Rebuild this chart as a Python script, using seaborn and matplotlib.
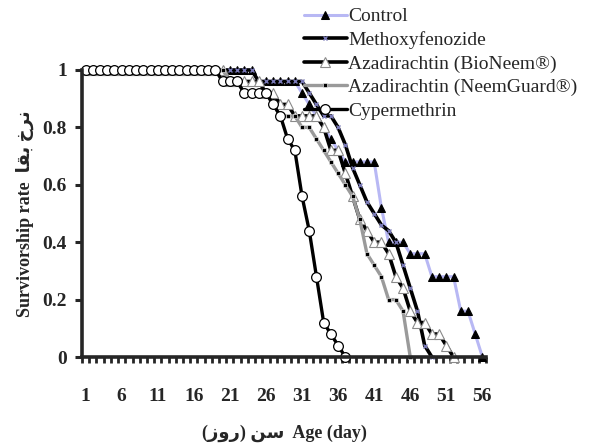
import numpy as np
import seaborn as sns
import matplotlib.pyplot as plt

# survivorship data (day 1 onwards, series stop at first 0)
days = list(range(1, 57))

control = [1.0, 1.0, 1.0, 1.0, 1.0, 1.0, 1.0, 1.0, 1.0, 1.0, 1.0, 1.0, 1.0, 1.0, 1.0, 1.0,
           1.0, 1.0, 1.0, 1.0, 1.0, 1.0, 1.0, 1.0, 0.96, 0.96, 0.96, 0.96, 0.96, 0.96, 0.92,
           0.88, 0.84, 0.80, 0.76, 0.72, 0.68, 0.68, 0.68, 0.68, 0.68, 0.52, 0.40, 0.40, 0.40,
           0.36, 0.36, 0.36, 0.28, 0.28, 0.28, 0.28, 0.16, 0.16, 0.08, 0.0]
methoxyfenozide = [1.0, 1.0, 1.0, 1.0, 1.0, 1.0, 1.0, 1.0, 1.0, 1.0, 1.0, 1.0, 1.0, 1.0, 1.0,
                   1.0, 1.0, 1.0, 1.0, 1.0, 1.0, 1.0, 1.0, 1.0, 0.96, 0.96, 0.96, 0.96, 0.96,
                   0.96, 0.96, 0.92, 0.88, 0.84, 0.84, 0.80, 0.74, 0.66, 0.60, 0.54, 0.50, 0.46,
                   0.44, 0.40, 0.32, 0.24, 0.16, 0.04, 0.0]
bioneem = [1.0, 1.0, 1.0, 1.0, 1.0, 1.0, 1.0, 1.0, 1.0, 1.0, 1.0, 1.0, 1.0, 1.0, 1.0, 1.0, 1.0,
           1.0, 1.0, 1.0, 0.96, 0.96, 0.96, 0.96, 0.96, 0.92, 0.92, 0.88, 0.88, 0.84, 0.84,
           0.84, 0.84, 0.80, 0.72, 0.72, 0.64, 0.56, 0.48, 0.44, 0.40, 0.40, 0.36, 0.28, 0.24,
           0.16, 0.12, 0.12, 0.08, 0.08, 0.04, 0.0]
neemguard = [1.0, 1.0, 1.0, 1.0, 1.0, 1.0, 1.0, 1.0, 1.0, 1.0, 1.0, 1.0, 1.0, 1.0, 1.0, 1.0,
             1.0, 1.0, 1.0, 1.0, 0.96, 0.96, 0.92, 0.92, 0.92, 0.92, 0.88, 0.84, 0.84, 0.84,
             0.80, 0.80, 0.76, 0.72, 0.68, 0.64, 0.60, 0.56, 0.48, 0.36, 0.32, 0.28, 0.20,
             0.20, 0.16, 0.0]
cypermethrin = [1.0, 1.0, 1.0, 1.0, 1.0, 1.0, 1.0, 1.0, 1.0, 1.0, 1.0, 1.0, 1.0, 1.0, 1.0, 1.0,
                1.0, 1.0, 1.0, 0.96, 0.96, 0.96, 0.92, 0.92, 0.92, 0.92, 0.88, 0.84, 0.76,
                0.72, 0.56, 0.44, 0.28, 0.12, 0.08, 0.04, 0.0]

labels = ['Control', 'Methoxyfenozide', 'Azadirachtin (BioNeem®)',
          'Azadirachtin (NeemGuard®)', 'Cypermethrin']
xtick_days = [1, 6, 11, 16, 21, 26, 31, 36, 41, 46, 51, 56]
ytick_vals = [0, 0.2, 0.4, 0.6, 0.8, 1.0]
ytick_labels = ['0', '0.2', '0.4', '0.6', '0.8', '1']

sns.set_style('ticks')
plt.rcParams['font.family'] = ['Liberation Serif', 'DejaVu Sans']

styles = [
    dict(color='#b8b8f4', lw=2.2, marker='^', ms=5.5, mfc='black', mec='black'),
    dict(color='black', lw=2.6, marker='x', ms=3, mec='#7a7ab8', mew=1),
    dict(color='black', lw=2.6, marker='^', ms=7, mfc='white', mec='#8a8a8a', mew=0.8),
    dict(color='#9a9a9a', lw=2.4, marker='s', ms=2.6, mfc='black', mec='white', mew=0.4),
    dict(color='black', lw=2.4, marker='o', ms=7, mfc='white', mec='black', mew=0.9),
]

fig = plt.figure(figsize=(6.02, 4.45), dpi=100)
ax = fig.add_axes([82 / 602, 88 / 445, 404 / 602, 287 / 445])

series = [control, methoxyfenozide, bioneem, neemguard, cypermethrin]
for name, vals, st in zip(labels, series, styles):
    sns.lineplot(x=days[:len(vals)], y=vals, ax=ax, label=name, clip_on=False,
                 **st)

ax.set_xlim(0.5, 56.5)
ax.set_ylim(0, 1.0)
sns.despine(ax=ax)
for s in ['left', 'bottom']:
    ax.spines[s].set_linewidth(2.6)

ax.set_xticks(xtick_days)
ax.set_xticklabels([str(d) for d in xtick_days], fontsize=14, fontweight='bold')
ax.set_xticks(np.arange(0.5, 57, 1), minor=True)
ax.tick_params(axis='x', which='major', length=0, pad=22)
ax.tick_params(axis='x', which='minor', length=4, width=2, direction='out')
ax.set_yticks(ytick_vals)
ax.set_yticklabels(ytick_labels, fontsize=14, fontweight='bold')
ax.tick_params(axis='y', length=5, width=2.2, direction='out', pad=6)

# Arabic written in presentation forms, visual order
ax.set_ylabel('Survivorship rate  ' + '\ufe8e\ufed8\ufe91 \ufea5\ufeae\ufee7',
              fontsize=13, fontweight='bold', labelpad=6)
ax.set_xlabel('(\ufeaf\ufeed\ufead) \ufee6\ufeb3  Age (day)', fontsize=13,
              fontweight='bold', labelpad=14)

ax.legend(loc='upper left', bbox_to_anchor=(296 / 602, 1.0), bbox_transform=fig.transFigure,
          frameon=False, fontsize=14, handlelength=2.2, handletextpad=0.1,
          labelspacing=0.3, borderaxespad=0)

fig.savefig('out.png', dpi=100)
